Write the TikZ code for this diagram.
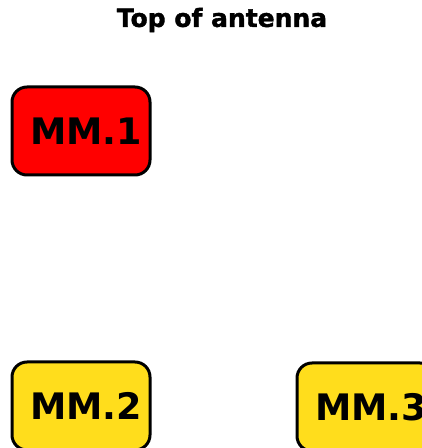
\documentclass[tikz,border=0pt]{standalone}
\usepackage{fontspec}
\setmainfont{Liberation Sans}
\newfontfamily\boxfont{DejaVu Sans Bold}
\newfontfamily\titlefont{DejaVu Sans Bold}[FakeBold=1.5]
\definecolor{mmred}{HTML}{FF0000}
\definecolor{mmyellow}{HTML}{FFDD1C}
\tikzset{
  mmbox/.style={draw=black, line width=3pt, rounded corners=15pt,
    minimum width=138pt, minimum height=88pt, inner sep=0pt,
    font=\boxfont\fontsize{36.5}{36.5}\selectfont},
  titletext/.style={font=\titlefont\fontsize{25}{25}\selectfont}
}
\begin{document}
\begin{tikzpicture}[x=1pt,y=1pt]
\useasboundingbox (0,0) rectangle (422,448);
\begin{scope}
\clip (0,0) rectangle (422,448);
\node[titletext] (title) at (222,428) {Top of antenna};
\node[mmbox, fill=mmred] (mm1) at (81,317) {\hspace{10pt}MM.1};
\node[mmbox, fill=mmyellow] (mm2) at (81,42) {\hspace{10pt}MM.2};
\node[mmbox, fill=mmyellow] (mm3) at (366,41) {\hspace{10pt}MM.3};
\end{scope}
\end{tikzpicture}
\end{document}
